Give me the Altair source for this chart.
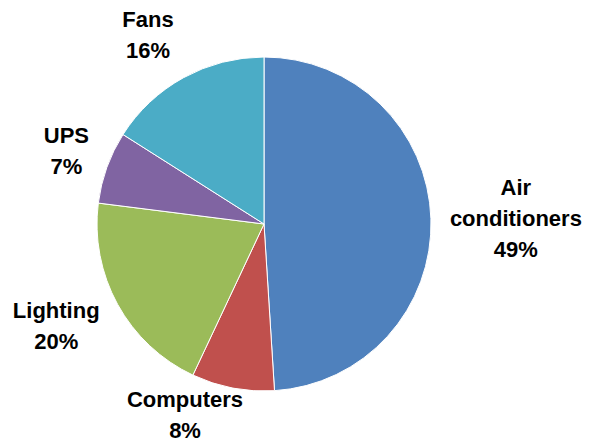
import altair as alt
import pandas as pd

categories = ["Air conditioners", "Computers", "Lighting", "UPS", "Fans"]
shares = [49, 8, 20, 7, 16]
colors = ["#4F81BD", "#C0504D", "#9BBB59", "#8064A2", "#4BACC6"]

df = pd.DataFrame({
    "category": categories,
    "value": shares,
    "idx": list(range(len(categories))),
})
df["label"] = [c.replace(" ", "\n") + "\n" + f"{v}%" for c, v in zip(categories, shares)]

CX, CY, R = 256, 216, 167
FONT = "Liberation Sans"

base = alt.Chart(df).transform_window(
    cum="sum(value)", sort=[alt.SortField("idx")], frame=[None, 0]
).transform_calculate(
    start="datum.cum - datum.value",
    mid="datum.cum - datum.value / 2",
)

theta_scale = alt.Scale(domain=[0, 100])

pie = base.mark_arc(radius=R, x=CX, y=CY, stroke="white", strokeWidth=1).encode(
    theta=alt.Theta("start:Q", scale=theta_scale),
    theta2="cum:Q",
    color=alt.Color("category:N", scale=alt.Scale(domain=categories, range=colors), legend=None),
)

def labels(filter_expr, radius, dx=0, dy=0):
    return base.transform_filter(filter_expr).mark_text(
        x=CX, y=CY, radius=radius, dx=dx, dy=dy, lineBreak="\n", lineHeight=31,
        font=FONT, fontSize=22, fontWeight="bold", color="black",
        align="center", baseline="middle",
    ).encode(
        theta=alt.Theta("mid:Q", scale=theta_scale),
        text="label:N",
    )

chart = alt.layer(
    pie,
    labels("datum.category === 'Air conditioners'", 252, dy=-28),
    labels("datum.category === 'Computers'", 208, dx=-40, dy=-28),
    labels("datum.category === 'Lighting'", 228, dx=-8, dy=-23),
    labels("datum.category === 'UPS'", 210, dy=-17),
    labels("datum.category === 'Fans'", 216, dx=-12, dy=-15),
).properties(
    width=574, height=436, padding=0, autosize=alt.AutoSizeParams(type="none")
).configure_view(stroke=None)

chart.save("out.html", embed_options={"renderer": "svg", "actions": False})
